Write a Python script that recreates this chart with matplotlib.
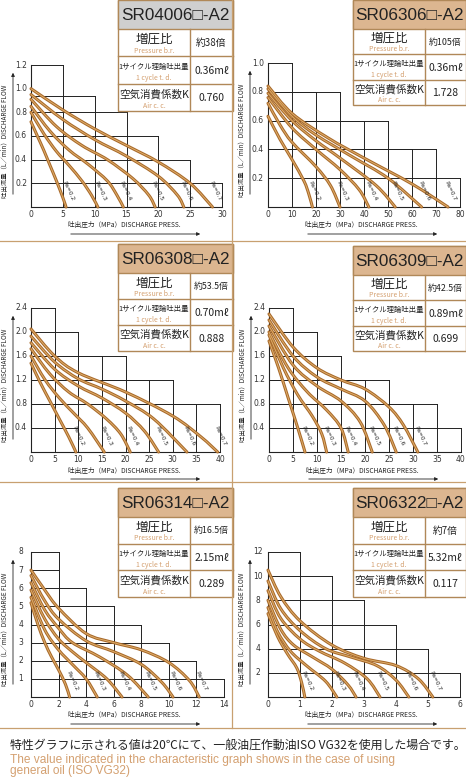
import matplotlib
matplotlib.use("Agg")
import matplotlib.pyplot as plt
from matplotlib.path import Path
from matplotlib.patches import PathPatch, Rectangle
import numpy as np

plt.rcParams['font.family'] = ['Noto Sans CJK JP', 'DejaVu Sans']

W, H = 466, 781

titles = ["SR04006□-A2", "SR06306□-A2", "SR06308□-A2", "SR06309□-A2", "SR06314□-A2", "SR06322□-A2"]
ratios = ["約38倍", "約105倍", "約53.5倍", "約42.5倍", "約16.5倍", "約7倍"]
volumes = ["0.36mℓ", "0.36mℓ", "0.70mℓ", "0.89mℓ", "2.15mℓ", "5.32mℓ"]
air_coeffs = ["0.760", "1.728", "0.888", "0.699", "0.289", "0.117"]
pa_labels = ["Pa=0.2", "Pa=0.3", "Pa=0.4", "Pa=0.5", "Pa=0.6", "Pa=0.7"]

xmaxs = [30, 80, 40, 40, 14, 6]
ymaxs = [1.2, 1.0, 2.4, 2.4, 8, 12]
xticks = [[0, 5, 10, 15, 20, 25, 30], [0, 10, 20, 30, 40, 50, 60, 70, 80],
          [0, 5, 10, 15, 20, 25, 30, 35, 40], [0, 5, 10, 15, 20, 25, 30, 35, 40],
          [0, 2, 4, 6, 8, 10, 12, 14], [0, 1, 2, 3, 4, 5, 6]]
yticks = [[0.2, 0.4, 0.6, 0.8, 1.0, 1.2], [0.2, 0.4, 0.6, 0.8, 1.0],
          [0.4, 0.8, 1.2, 1.6, 2.0, 2.4], [0.4, 0.8, 1.2, 1.6, 2.0, 2.4],
          [1, 2, 3, 4, 5, 6, 7, 8], [2, 4, 6, 8, 10, 12]]
ytick_fmt = ["{:.1f}", "{:.1f}", "{:.1f}", "{:.1f}", "{:d}", "{:d}"]
# staircase grid: (x, top y)
steps = [[(5, 1.2), (10, 0.94), (15, 0.8), (20, 0.6), (25, 0.4), (30, 0.2)],
         [(10, 1.0), (20, 0.8), (30, 0.8), (40, 0.6), (50, 0.6), (60, 0.4), (70, 0.4), (80, 0.2)],
         [(5, 2.4), (10, 2.0), (15, 1.6), (20, 1.6), (25, 1.2), (30, 1.2), (35, 0.8), (40, 0.8), (10, 0.4)],
         [(5, 2.4), (10, 2.0), (15, 1.6), (20, 1.2), (25, 1.2), (30, 0.8), (35, 0.8), (40, 0.4)],
         [(2, 8), (4, 6), (6, 5), (8, 4), (10, 3), (12, 2), (14, 1), (2, 7)],
         [(1, 12), (2, 10), (3, 8), (4, 6), (5, 4), (6, 2)]]

curves = [
    [[(0,0.72),(1,0.6),(2,0.48),(3,0.35),(4,0.22),(5,0.08),(5.5,0)],
     [(0,0.80),(2,0.62),(4,0.47),(6,0.35),(8,0.22),(9.5,0.1),(10.5,0)],
     [(0,0.85),(3,0.64),(6,0.48),(9,0.36),(12,0.22),(13.5,0.1),(14.5,0)],
     [(0,0.91),(4,0.68),(8,0.52),(12,0.40),(16,0.24),(18.5,0.1),(19.5,0)],
     [(0,0.95),(5,0.74),(10,0.57),(15,0.43),(20,0.26),(23,0.1),(24,0)],
     [(0,1.0),(5,0.82),(10,0.66),(15,0.52),(20,0.38),(25,0.2),(28.5,0)]],
    [[(0,0.63),(5,0.47),(10,0.33),(15,0.18),(17,0.09),(18.5,0)],
     [(0,0.72),(5,0.57),(10,0.45),(20,0.28),(26,0.15),(30,0)],
     [(0,0.76),(10,0.55),(20,0.40),(30,0.26),(38,0.12),(42,0)],
     [(0,0.79),(10,0.60),(20,0.46),(30,0.34),(45,0.15),(53,0)],
     [(0,0.82),(10,0.63),(20,0.50),(35,0.35),(50,0.20),(64,0)],
     [(0,0.84),(10,0.65),(25,0.48),(40,0.34),(60,0.16),(75,0)]],
    [[(0,1.48),(2,1.15),(4,0.85),(6,0.55),(8,0.25),(9.5,0)],
     [(0,1.6),(3,1.2),(6,0.9),(9,0.65),(12,0.4),(15.5,0)],
     [(0,1.72),(4,1.3),(8,1.0),(12,0.8),(16,0.55),(19,0.3),(21,0)],
     [(0,1.82),(5,1.38),(10,1.1),(15,0.9),(20,0.65),(24,0.35),(27,0)],
     [(0,1.93),(5,1.5),(10,1.22),(15,1.05),(20,0.85),(26,0.55),(33,0)],
     [(0,2.05),(5,1.6),(10,1.32),(20,1.0),(30,0.6),(36,0.25),(39.5,0)]],
    [[(0,1.85),(2,1.4),(4,0.9),(6,0.4),(7.5,0)],
     [(0,1.95),(3,1.4),(6,0.95),(9,0.6),(11,0.3),(12,0)],
     [(0,2.0),(4,1.4),(8,1.0),(12,0.7),(15,0.4),(16.5,0)],
     [(0,2.1),(5,1.45),(10,1.1),(15,0.85),(19,0.5),(21.5,0)],
     [(0,2.2),(5,1.6),(10,1.25),(15,1.05),(20,0.85),(24,0.45),(26.5,0)],
     [(0,2.3),(5,1.75),(10,1.4),(15,1.2),(20,1.05),(25,0.75),(28,0.45),(31,0)]],
    [[(0,5.2),(0.5,4.0),(1,3.0),(1.5,2.2),(2,1.5),(2.5,0.7),(2.8,0)],
     [(0,5.5),(1,3.7),(2,2.6),(3,1.8),(4,1.0),(4.8,0)],
     [(0,5.9),(1,4.3),(2,3.2),(3,2.5),(4,1.9),(5.5,1.0),(6.6,0)],
     [(0,6.3),(1,4.8),(2,3.8),(3,3.0),(5,2.2),(7,1.2),(8.5,0)],
     [(0,6.7),(1,5.3),(2,4.3),(4,3.1),(6,2.5),(8,1.8),(9.5,0.8),(10.3,0)],
     [(0,7.0),(1,5.9),(2,4.9),(4,3.5),(6,3.0),(8,2.6),(10,1.9),(11.5,0.9),(12.2,0)]],
    [[(0,6.9),(0.3,5.0),(0.6,3.6),(0.9,2.4),(1.05,1.2),(1.15,0)],
     [(0,7.4),(0.3,5.4),(0.7,3.8),(1.2,2.6),(1.8,1.3),(2.15,0)],
     [(0,8.0),(0.4,5.6),(0.8,4.3),(1.4,3.3),(2.0,2.3),(2.5,1.0),(2.75,0)],
     [(0,8.8),(0.4,6.5),(1.0,4.8),(1.6,3.8),(2.4,2.8),(3.1,1.5),(3.5,0)],
     [(0,9.6),(0.4,7.3),(1.0,5.5),(1.8,4.0),(2.6,3.3),(3.4,2.6),(4.0,1.4),(4.4,0)],
     [(0,10.5),(0.4,8.3),(1.0,6.3),(2.0,4.3),(3.0,3.2),(4.0,2.6),(4.7,1.5),(5.15,0)]],
]

# layout (pixels): x0, x1, ybottom, ytop
axbox = [(31, 222, 207, 65), (268, 460, 207, 63), (31, 220, 452, 308),
         (269, 461, 452, 308), (31, 224, 697, 552), (268, 460, 697, 552)]
tables = [(118, 0, 190, 233, 111), (353, 0, 425, 466, 105), (118, 244, 190, 233, 351),
          (353, 246, 425, 466, 351), (118, 488, 190, 233, 597), (353, 488, 425, 466, 597)]

TAN = "#d4a070"
BORDER = "#b08858"

def smooth_path(pts):
    pts = np.array(pts, float)
    n = len(pts)
    verts = [pts[0]]
    codes = [Path.MOVETO]
    for i in range(n - 1):
        p0 = pts[i - 1] if i > 0 else pts[i]
        p1, p2 = pts[i], pts[i + 1]
        p3 = pts[i + 2] if i + 2 < n else pts[i + 1]
        c1 = p1 + (p2 - p0) / 6.0
        c2 = p2 - (p3 - p1) / 6.0
        verts += [c1, c2, p2]
        codes += [Path.CURVE4] * 3
    return Path(verts, codes)

fig = plt.figure(figsize=(W / 100, H / 100), dpi=100)
fig.patch.set_facecolor("white")

for k in range(6):
    x0, x1, yb, yt = axbox[k]
    ax = fig.add_axes([x0 / W, 1 - yb / H, (x1 - x0) / W, (yb - yt) / H])
    ax.set_xlim(0, xmaxs[k]); ax.set_ylim(0, ymaxs[k]); ax.axis("off")
    lc = "#222222"
    ymx = max(s[1] for s in steps[k])
    ax.plot([0, 0], [0, ymx], color=lc, lw=0.8, clip_on=False)
    ax.plot([0, xmaxs[k]], [0, 0], color=lc, lw=0.8, clip_on=False)
    for sx, sy in steps[k]:
        ax.plot([sx, sx], [0, sy], color=lc, lw=0.7, clip_on=False)
        ax.plot([0, sx], [sy, sy], color=lc, lw=0.7, clip_on=False)
    for j, c in enumerate(curves[k]):
        p = smooth_path(c)
        ax.add_patch(PathPatch(p, fill=False, ec="#a8692a", lw=2.2, capstyle="round", clip_on=False, zorder=3))
        ax.add_patch(PathPatch(p, fill=False, ec="#dfae6a", lw=0.7, capstyle="round", clip_on=False, zorder=4))
        xe = c[-1][0]
        ax.text(xe + 0.012 * xmaxs[k], 0.11 * ymaxs[k], pa_labels[j],
                rotation=-65, fontsize=4.2, ha="center", va="center", color="#222222", zorder=5,
                family=["DejaVu Sans"])
    ax_h = yb - yt
    for t in xticks[k]:
        ax.text(t, -7.5 / ax_h * ymaxs[k], str(t),
                fontsize=5.5, ha="center", va="center", color="#333333", clip_on=False,
                family=["DejaVu Sans"])
    ax_w = x1 - x0
    for t in yticks[k]:
        ax.text(-10 / ax_w * xmaxs[k], t, ytick_fmt[k].format(t), fontsize=5.5, ha="center",
                va="center", color="#333333", clip_on=False, family=["DejaVu Sans"])

ov = fig.add_axes([0, 0, 1, 1], zorder=10)
ov.set_xlim(0, W); ov.set_ylim(H, 0); ov.axis("off"); ov.patch.set_alpha(0)

for k in range(6):
    x0, x1, yb, yt = axbox[k]
    ov.text(x0 - 26, (yb + yt) / 2 + 5, "吐出流量（L／min）DISCHARGE FLOW", rotation=90,
            fontsize=4.6, ha="center", va="center", color="#222222")
    ov.annotate("", xy=(x0 - 18, yt + 5), xytext=(x0 - 18, yb - 10),
                arrowprops=dict(arrowstyle="-|>", color="#222222", lw=0.6, mutation_scale=5))
    ov.text(x0 + 37, yb + 18.5, "吐出圧力（MPa）DISCHARGE PRESS.", fontsize=4.8,
            ha="left", va="center", color="#222222")
    ov.annotate("", xy=(x0 + 172, yb + 27), xytext=(x0 + 37, yb + 27),
                arrowprops=dict(arrowstyle="-|>", color="#222222", lw=0.6, mutation_scale=5))
    L, T, S, R, B = tables[k]
    hh = 29
    hc = "#cfcfcf" if k == 0 else "#dcb690"
    ov.add_patch(Rectangle((L, T), R - L, B - T, fc="white", ec=BORDER, lw=1.0))
    ov.add_patch(Rectangle((L, T), R - L, hh, fc=hc, ec=BORDER, lw=1.0))
    ov.text((L + R) / 2, T + hh / 2 + 1, titles[k], fontsize=12.3, ha="center", va="center",
            color="#222222", family=["Liberation Sans", "DejaVu Sans"])
    rh = (B - T - hh) / 3
    for r in range(1, 3):
        ov.plot([L, R], [T + hh + r * rh] * 2, color=BORDER, lw=1.0)
    ov.plot([S, S], [T + hh, B], color=BORDER, lw=1.0)
    jp = ["増圧比", "1サイクル理論吐出量", "空気消費係数K"]
    jps = [9, 5.3, 7.6]
    en = ["Pressure b.r.", "1 cycle t. d.", "Air c. c."]
    vals = [ratios[k], volumes[k], air_coeffs[k]]
    vs = [6.4 if len(ratios[k]) > 4 else 7, 7.5, 7.5]
    for r in range(3):
        cy = T + hh + r * rh
        ov.text((L + S) / 2, cy + rh * 0.38, jp[r], fontsize=jps[r], ha="center", va="center", color="#222222")
        ov.text((L + S) / 2, cy + rh * 0.8, en[r], fontsize=5.0, ha="center", va="center", color=TAN)
        ov.text((S + R) / 2, cy + rh * 0.52, vals[r], fontsize=vs[r], ha="center", va="center", color="#222222")

ov.plot([232, 232], [0, 728], color="#c8a070", lw=0.9)
for yy in [241, 482, 728]:
    ov.plot([0, W], [yy, yy], color="#c8a070", lw=0.9)

ov.text(10, 745, "特性グラフに示される値は20℃にて、一般油圧作動油ISO VG32を使用した場合です。",
        fontsize=8.6, ha="left", va="center", color="#222222")
ov.text(10, 760, "The value indicated in the characteristic graph shows in the case of using",
        fontsize=8.6, ha="left", va="center", color=TAN, family=["Liberation Sans"])
ov.text(10, 771, "general oil (ISO VG32)", fontsize=8.6, ha="left", va="center", color=TAN,
        family=["Liberation Sans"])

fig.savefig("out.png", dpi=100)
